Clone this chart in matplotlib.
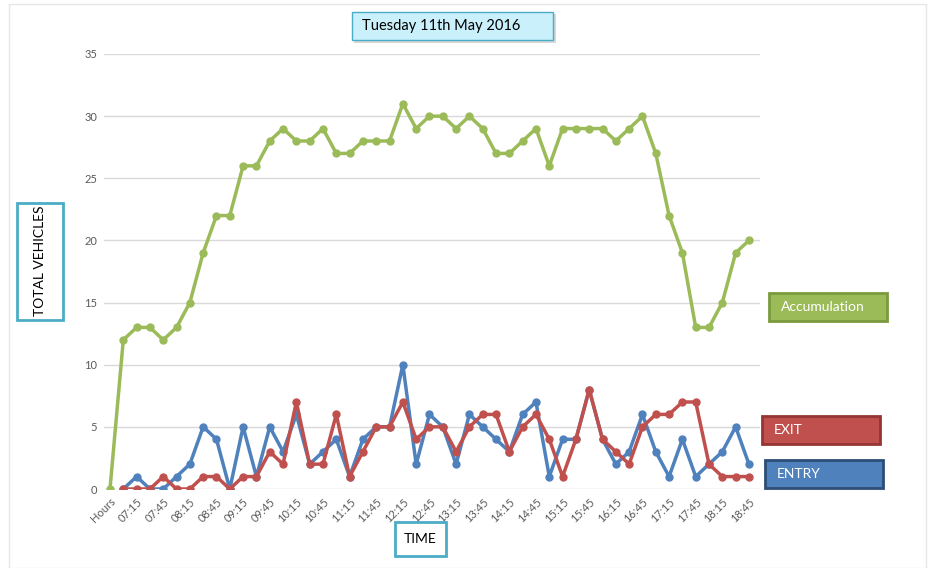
import numpy as np
import matplotlib.pyplot as plt
from matplotlib.patches import Rectangle

plt.rcParams['font.family'] = ['Lato', 'DejaVu Sans']

# categories: "Hours" then 07:00 .. 18:45 every 15 min
times = ['Hours'] + [f"{h:02d}:{m:02d}" for h in range(7, 19) for m in (0, 15, 30, 45)]

accumulation = [0, 12, 13, 13, 12, 13, 15, 19, 22, 22, 26, 26, 28, 29, 28, 28, 29,
                27, 27, 28, 28, 28, 31, 29, 30, 30, 29, 30, 29, 27, 27, 28, 29,
                26, 29, 29, 29, 29, 28, 29, 30, 27, 22, 19, 13, 13, 15, 19, 20]
entry = [np.nan, 0, 1, 0, 0, 1, 2, 5, 4, 0, 5, 1, 5, 3, 6, 2, 3,
         4, 1, 4, 5, 5, 10, 2, 6, 5, 2, 6, 5, 4, 3, 6, 7,
         1, 4, 4, 8, 4, 2, 3, 6, 3, 1, 4, 1, 2, 3, 5, 2]
exits = [np.nan, 0, 0, 0, 1, 0, 0, 1, 1, 0, 1, 1, 3, 2, 7, 2, 2,
         6, 1, 3, 5, 5, 7, 4, 5, 5, 3, 5, 6, 6, 3, 5, 6,
         4, 1, 4, 8, 4, 3, 2, 5, 6, 6, 7, 7, 2, 1, 1, 1]

GREEN = '#9bbb59'
RED = '#c0504d'
BLUE = '#4f81bd'
TEAL = '#4bacc6'

W, H = 935, 568
fig = plt.figure(figsize=(W / 100, H / 100), dpi=100)


def box(x0, y0, x1, y1, **kw):
    # rectangle in pixel coords (top-left origin)
    r = Rectangle((x0 / W, 1 - y1 / H), (x1 - x0) / W, (y1 - y0) / H,
                  transform=fig.transFigure, **kw)
    fig.patches.append(r)


box(9, 4, 926, 568, fill=False, edgecolor='#e6e6e6', lw=1)

ax = fig.add_axes([104 / W, 79 / H, 656 / W, 435 / H])
x = np.arange(len(times))

ax.plot(x, accumulation, color=GREEN, lw=2.5, marker='o', ms=5, zorder=3)
ax.plot(x, entry, color=BLUE, lw=2.5, marker='o', ms=5, zorder=4)
ax.plot(x, exits, color=RED, lw=2.5, marker='o', ms=5, zorder=5)

ax.set_xlim(-0.45, 48.83)
ax.set_ylim(0, 35)
ax.set_yticks(range(0, 36, 5))
ax.set_xticks(x[::2])
ax.set_xticklabels(times[::2], rotation=45, ha='right', rotation_mode='anchor')
ax.tick_params(length=0, labelsize=8, colors='#595959', pad=5)
ax.grid(axis='y', color='#d9d9d9', lw=1)
ax.set_axisbelow(True)
for s in ax.spines.values():
    s.set_visible(False)

# title box with shadow
box(354, 14, 556, 43, fc='#bfbfbf', ec='none', alpha=0.6)
box(352, 12, 553, 40, fc='#c9f0fb', ec=TEAL, lw=1)
fig.text(362 / W, 1 - 26 / H, 'Tuesday 11th May 2016', ha='left', va='center', fontsize=10.5)

# axis label boxes
box(17, 203, 63, 320, fc='white', ec=TEAL, lw=2)
fig.text(40 / W, 1 - 261 / H, 'TOTAL VEHICLES', rotation=90, ha='center', va='center', fontsize=10)
box(395, 522, 446, 556, fc='white', ec=TEAL, lw=2)
fig.text(420 / W, 1 - 539 / H, 'TIME', ha='center', va='center', fontsize=10)

# legend boxes
legend_items = [('Accumulation', GREEN, '#7a9a3c', 769, 293),
                ('EXIT', RED, '#943634', 762, 416),
                ('ENTRY', BLUE, '#2c4d75', 765, 460)]
for label, fc, ec, lx, ly in legend_items:
    box(lx, ly, lx + 118, ly + 28, fc=fc, ec=ec, lw=2)
    fig.text((lx + 12) / W, 1 - (ly + 14) / H, label, ha='left', va='center',
             fontsize=10, color='white')

fig.savefig('out.png', dpi=100)
